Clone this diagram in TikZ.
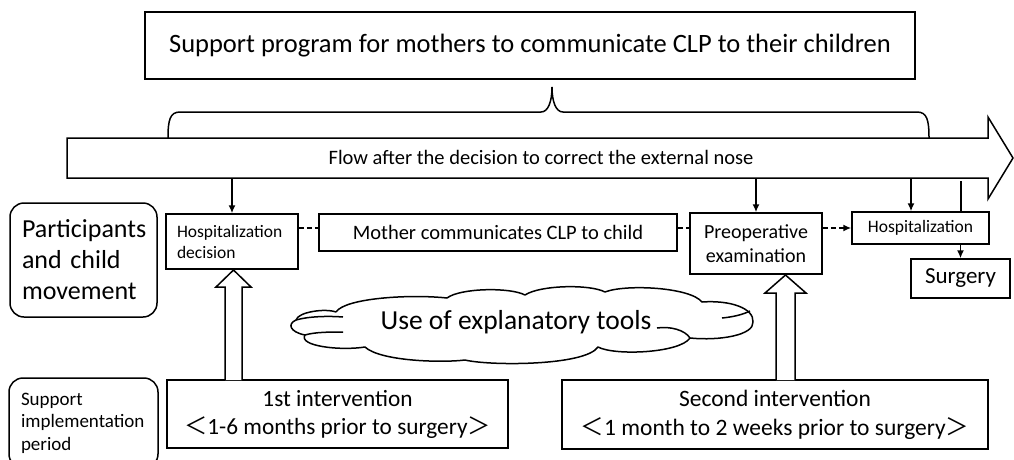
\documentclass[tikz,border=0pt]{standalone}
\usepackage{fontspec}
\setmainfont{Carlito}
\newfontfamily\cjk{Noto Sans CJK JP}
\usetikzlibrary{arrows.meta,calc}
\newcommand\myfs[2]{\fontsize{#1pt}{#2pt}\selectfont}
\begin{document}
\begin{tikzpicture}[x=1pt,y=-1pt,line width=1.5pt,
  box/.style={draw,rectangle,inner sep=0pt,align=center},
  rbox/.style={draw,rectangle,rounded corners=14pt,inner xsep=12pt,inner ysep=0pt,align=left},
  arr/.style={-{Latex[length=8pt,width=7pt]}},
  dline/.style={dash pattern=on 5pt off 3pt},
  block/.style={draw,fill=white,line width=1.5pt,line join=miter}]
\useasboundingbox (0,0) rectangle (1014,459);
\clip (0,0) rectangle (1014,459);

% top box
\node[box,minimum width=770pt,minimum height=67pt,font=\myfs{26.5}{30}] (top) at (530,45.5)
  {Support program for mothers to communicate CLP to their children};

% brace
\draw (168,138) .. controls (168,120) and (170,112) .. (180,112) -- (541,112)
  .. controls (548,112) and (552,102) .. (552,87)
  .. controls (552,102) and (556,112) .. (563,112) -- (917,112)
  .. controls (927,112) and (929,120) .. (929,138);

% big flow arrow
\draw[block] (67,138) -- (988,138) -- (988,117) -- (1013,158) -- (988,199) -- (988,178) -- (67,178) -- cycle;
\node[font=\myfs{20.5}{24}] (flow) at (541,157) {Flow after the decision to correct the external nose};
\coordinate (d1) at (232,178);
\coordinate (d2) at (756,178);
\coordinate (d3) at (911,178);
\coordinate (d4) at (961,181);

% left labels
\node[rbox,minimum width=147pt,minimum height=114pt,text width=123pt,font=\myfs{26}{31}] (part) at (83.5,260)
  {Participants\\and child\\movement};
\node[rbox,minimum width=149pt,minimum height=90pt,text width=125pt,font=\myfs{19}{22.5}] (supp) at (83.5,423)
  {Support\\implementation\\period};

% flow boxes
\node[box,minimum width=132pt,minimum height=55pt,text width=110pt,align=left,font=\myfs{17.5}{21}] (hdec) at (232,241.5)
  {Hospitalization\\decision};
\node[box,minimum width=358pt,minimum height=37pt,font=\myfs{20.5}{24}] (moth) at (498,232.5)
  {Mother communicates CLP to child};
\node[box,minimum width=132pt,minimum height=61pt,font=\myfs{20}{24}] (preop) at (756,243.5)
  {Preoperative\\examination};
\node[box,minimum width=137pt,minimum height=32pt,font=\myfs{17.5}{21}] (hosp) at (920.5,228)
  {Hospitalization};
\node[box,minimum width=99pt,minimum height=39pt,font=\myfs{23}{27}] (surg) at (960.5,278.5)
  {Surgery};

% connectors
\draw[arr] (d1) -- (hdec.north);
\draw[arr] (d2) -- (preop.north);
\draw[arr] (d3) -- (d3 |- hosp.north);
\draw (d4) -- (d4 |- hosp.north);
\draw[arr] (hosp.south -| surg.north) -- (surg.north);
\draw[dline] (hdec.east |- hosp.west) -- (moth.west |- hosp.west);
\draw[dline] (moth.east |- hosp.west) -- (preop.west |- hosp.west);
\draw[dline,arr] (preop.east |- hosp.west) -- (hosp.west);

% cloud
\draw[line join=round] (336,312)
  .. controls (345,298) and (410,294) .. (447,298)
  .. controls (460,288) and (510,287) .. (525,295)
  .. controls (540,285) and (590,284) .. (605,292)
  .. controls (625,284) and (690,287) .. (702,302)
  .. controls (730,300) and (754,308) .. (753,322)
  .. controls (754,335) and (720,341) .. (690,338)
  .. controls (680,353) and (615,356) .. (598,347)
  .. controls (585,366) and (490,366) .. (465,360)
  .. controls (440,363) and (380,361) .. (365,347)
  .. controls (340,351) and (298,346) .. (305,335)
  .. controls (290,332) and (287,324) .. (296,320)
  .. controls (298,312) and (325,308) .. (336,312);
\draw (296,320) .. controls (310,316) and (330,316) .. (343,317);
\draw (305,335) .. controls (315,332) and (330,332) .. (343,332);
\draw (722,318) .. controls (732,317) and (742,315) .. (750,311);
\draw (657,328) .. controls (670,326) and (685,330) .. (690,338);
\node[font=\myfs{27.5}{30}] (cloudtext) at (516,322) {Use of explanatory tools};

% intervention boxes
\node[box,minimum width=341pt,minimum height=68pt,font=\myfs{23.3}{28}] (int1) at (337.5,414)
  {1st intervention\\{\cjk ＜}1-6 months prior to surgery{\cjk ＞}};
\node[box,minimum width=426pt,minimum height=69pt,font=\myfs{23.5}{29}] (int2) at (775,414.5)
  {Second intervention\\{\cjk ＜}1 month to 2 weeks prior to surgery{\cjk ＞}};

% hollow block arrows
\draw[block] (225,380) -- (225,287) -- (216,287) -- (233.5,270) -- (251,287) -- (242,287) -- (242,380);
\draw[block] (776,380) -- (776,293) -- (765,293) -- (785.5,275) -- (806,293) -- (795,293) -- (795,380);
\end{tikzpicture}
\end{document}
